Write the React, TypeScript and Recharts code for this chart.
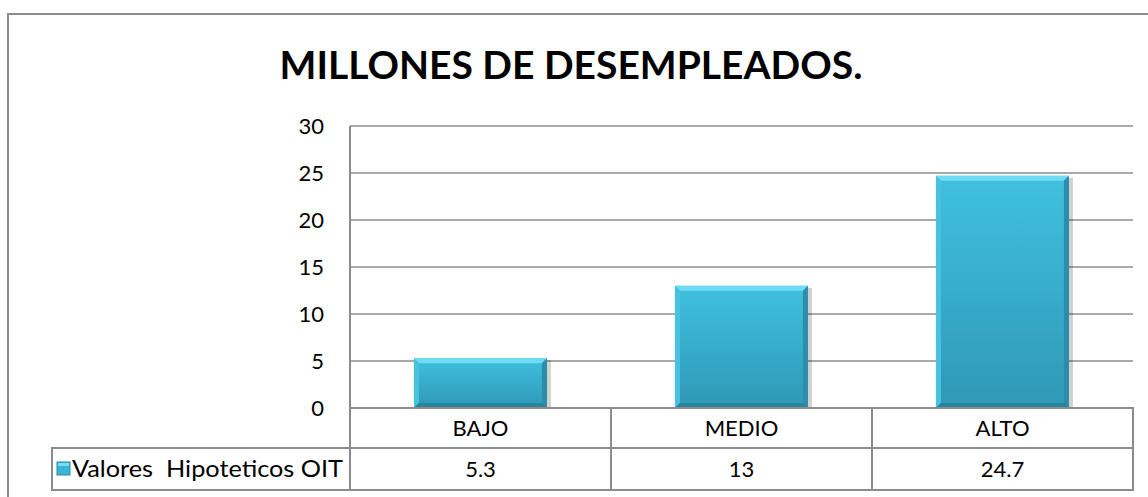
import { BarChart, Bar, XAxis, YAxis, CartesianGrid } from 'recharts'

const categories = ['BAJO', 'MEDIO', 'ALTO']
const values = [5.3, 13, 24.7]
const yTicks = [0, 5, 10, 15, 20, 25, 30]
const seriesName = 'Valores  Hipoteticos OIT'
const title = 'MILLONES DE DESEMPLEADOS.'

const data = categories.map((c, i) => ({ cat: c, v: values[i] }))

const FONT = 'Lato, "Open Sans", sans-serif'
const LINE = '#8c8c8c'
const W = 1148
const H = 497
const PLOT_LEFT = 350
const PLOT_RIGHT = 1133
const PLOT_TOP = 126
const PLOT_BOTTOM = 408
const ROW1 = 40
const ROW2 = 42
const LEGEND_LEFT = 52

function BevelBar(props: any) {
  const { x, y, width, height, index } = props
  if (!height || height <= 0) return null
  const b = Math.min(5, height / 3)
  const id = `barGrad${index}`
  return (
    <g>
      <defs>
        <linearGradient id={id} x1="0" y1="0" x2="0" y2="1">
          <stop offset="0%" stopColor="#40c0e0" />
          <stop offset="100%" stopColor="#2f98b6" />
        </linearGradient>
      </defs>
      <rect x={x + 2} y={y + 2} width={width + 2} height={height - 2} fill="#000" opacity={0.18} />
      <rect x={x} y={y} width={width} height={height} fill={`url(#${id})`} />
      <polygon points={`${x},${y} ${x + width},${y} ${x + width - b},${y + b} ${x + b},${y + b}`} fill="#70dcf3" />
      <polygon points={`${x},${y} ${x + b},${y + b} ${x + b},${y + height - b} ${x},${y + height}`} fill="#49c2e0" />
      <polygon points={`${x + width},${y} ${x + width},${y + height} ${x + width - b},${y + height - b} ${x + width - b},${y + b}`} fill="#2c8ea9" />
      <polygon points={`${x},${y + height} ${x + b},${y + height - b} ${x + width - b},${y + height - b} ${x + width},${y + height}`} fill="#28839d" />
    </g>
  )
}

function TableTick(props: any) {
  const { x, payload } = props
  const idx = payload.index as number
  const bw = (PLOT_RIGHT - PLOT_LEFT) / categories.length
  const left = x - bw / 2
  return (
    <g>
      <rect x={left} y={PLOT_BOTTOM} width={bw} height={ROW1} fill="none" stroke={LINE} strokeWidth={2} />
      <rect x={left} y={PLOT_BOTTOM + ROW1} width={bw} height={ROW2} fill="none" stroke={LINE} strokeWidth={2} />
      <text x={x} y={PLOT_BOTTOM + 28} textAnchor="middle" fontSize={22} fontFamily={FONT} fill="#000">{payload.value}</text>
      <text x={x} y={PLOT_BOTTOM + ROW1 + 29} textAnchor="middle" fontSize={22} fontFamily={FONT} fill="#000">{values[idx]}</text>
      {idx === 0 && (
        <g>
          <rect x={LEGEND_LEFT} y={PLOT_BOTTOM + ROW1} width={PLOT_LEFT - LEGEND_LEFT} height={ROW2} fill="none" stroke={LINE} strokeWidth={2} />
          <rect x={LEGEND_LEFT + 5} y={PLOT_BOTTOM + ROW1 + 14} width={13} height={13} fill="#3ab4d6" stroke="#2a8aa6" strokeWidth={1} />
          <rect x={LEGEND_LEFT + 6} y={PLOT_BOTTOM + ROW1 + 15} width={11} height={3} fill="#74def4" />
          <text x={LEGEND_LEFT + 20} y={PLOT_BOTTOM + ROW1 + 29} textLength={PLOT_LEFT - LEGEND_LEFT - 27} lengthAdjust="spacingAndGlyphs" fontSize={23} fontFamily={FONT} fill="#000" style={{ whiteSpace: 'pre' }}>{seriesName}</text>
        </g>
      )}
    </g>
  )
}

export default function App() {
  return (
    <div style={{ position: 'absolute', left: 0, top: 0, width: W, height: H, background: '#fff', overflow: 'hidden' }}>
      <div style={{ position: 'absolute', left: 7, top: 13, width: W, height: H, borderLeft: `2px solid ${LINE}`, borderTop: `2px solid ${LINE}`, boxSizing: 'border-box' }} />
      <div style={{ position: 'absolute', left: 0, width: 1142, top: 38, textAlign: 'center', fontFamily: FONT, fontWeight: 700, fontSize: 39, lineHeight: '52px', color: '#000' }}>{title}</div>
      <div style={{ position: 'absolute', left: 0, top: 0 }}>
        <BarChart width={W} height={H} data={data} margin={{ top: PLOT_TOP, right: W - PLOT_RIGHT, bottom: 0, left: 0 }} barCategoryGap="24.5%">
          <CartesianGrid vertical={false} stroke={LINE} strokeWidth={1.5} />
          <XAxis dataKey="cat" axisLine={false} tickLine={false} height={H - PLOT_BOTTOM} tick={<TableTick />} interval={0} />
          <YAxis domain={[0, 30]} ticks={yTicks} width={PLOT_LEFT} axisLine={{ stroke: LINE, strokeWidth: 2 }} tickLine={false} tickSize={0} tickMargin={26} tick={{ fontSize: 22, fontFamily: FONT, fill: '#000' }} />
          <Bar dataKey="v" name={seriesName} shape={<BevelBar />} isAnimationActive={false} />
        </BarChart>
      </div>
    </div>
  )
}
